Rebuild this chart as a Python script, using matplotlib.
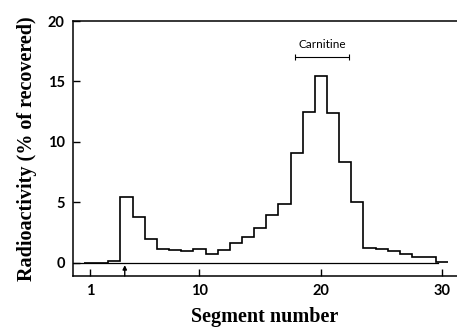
import numpy as np
import matplotlib
matplotlib.use("Agg")
import matplotlib.pyplot as plt

# Radioactivity per segment (% of recovered)
segments = np.arange(1, 31)
activity = [0.0, 0.0, 0.15, 5.45, 3.8, 2.0, 1.1, 1.05, 0.95, 1.1,
            0.7, 1.05, 1.65, 2.15, 2.85, 3.95, 4.9, 9.05, 12.45, 15.45,
            12.4, 8.35, 5.0, 1.2, 1.15, 0.95, 0.75, 0.5, 0.45, 0.07]
xticks = [1, 10, 20, 30]
yticks = [0, 5, 10, 15, 20]

# carnitine marker range and the origin arrow
carnitine_range = (17.85, 22.3)
origin_segment = 3.85

fig = plt.figure(figsize=(4.57, 3.29), dpi=100)
ax = fig.add_axes([0.16, 0.161, 0.84, 0.775])

edges = np.append(segments - 0.5, segments[-1] + 0.5)
ax.axhline(0, xmin=0, xmax=0.95, color="black", lw=0.9)
ax.stairs(activity, edges, color="black", lw=1.2, baseline=None)

ax.set_xlim(-0.4, 31.2)
ax.set_ylim(-1.1, 20)
ax.spines["right"].set_visible(False)
for s in ["left", "top", "bottom"]:
    ax.spines[s].set_linewidth(1.1)

ax.set_xticks(xticks)
ax.set_yticks(yticks)
ax.tick_params(direction="in", length=5, width=1, labelsize=10.5, pad=6)
for lab in ax.get_xticklabels() + ax.get_yticklabels():
    lab.set_family("Lato")
    lab.set_weight("bold")

ax.set_xlabel("Segment number", family="Liberation Serif", fontsize=14.5,
              weight="bold", labelpad=6)
ax.set_ylabel("Radioactivity (% of recovered)", family="Liberation Serif",
              fontsize=14.5, weight="bold", labelpad=8)

# Carnitine range bar
ax.errorbar(np.mean(carnitine_range), 17.0,
            xerr=(carnitine_range[1] - carnitine_range[0]) / 2,
            color="black", lw=0.8, capsize=2.5, capthick=0.8)
ax.text(np.mean(carnitine_range), 17.6, "Carnitine", ha="center",
        va="bottom", family="Lato", fontsize=8.5)

# arrow marking origin
ax.annotate("", xy=(origin_segment, -0.2), xytext=(origin_segment, -1.1),
            arrowprops=dict(arrowstyle="-|>", color="black", lw=1.0,
                            mutation_scale=6, shrinkA=0, shrinkB=0))

fig.savefig("out.png", dpi=100)
